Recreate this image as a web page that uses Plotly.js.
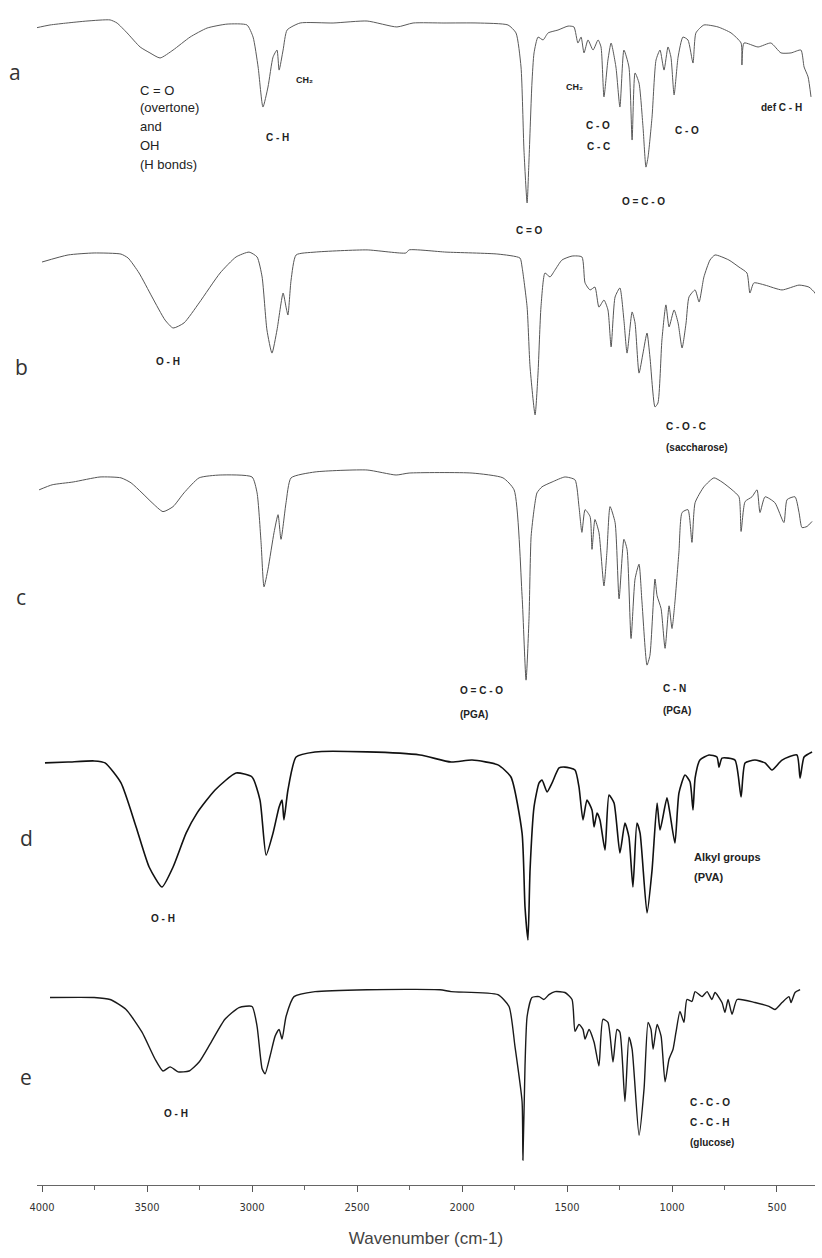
<!DOCTYPE html>
<html><head><meta charset="utf-8">
<script src="https://cdn.plot.ly/plotly-3.0.1.min.js"></script>
<style>html,body{margin:0;padding:0;background:#fff}</style>
</head><body><div id="chart" style="width:822px;height:1258px"></div>
<script>
// ---------- DATA (wavenumber cm-1, relative transmittance 0-100 per spectrum) ----------
const wnA = [4033,3962,3881,3786,3676,3643,3595,3533,3486,3438,3376,3295,3214,3119,3024,2995,2971,2948,2924,2900,2881,2871,2852,2833,2771,2614,2452,2310,2233,2086,1924,1781,1743,1719,1705,1690,1681,1667,1657,1638,1614,1590,1543,1495,1467,1448,1433,1419,1400,1376,1352,1338,1324,1305,1290,1267,1248,1229,1205,1190,1176,1157,1138,1124,1114,1095,1076,1057,1038,1019,1005,990,971,948,924,900,886,848,781,719,671,667,657,590,529,481,433,386,371,352,338];
const tA  = [92.7,94.1,95.0,95.9,96.4,95.0,90.5,84.1,81.4,79.1,82.7,88.6,92.7,94.5,94.1,88.6,75.0,56.8,65.9,79.5,82.7,73.6,82.7,91.8,95.0,95.0,95.9,93.2,95.0,95.0,95.0,94.1,90.5,75.0,37.3,13.2,32.7,67.7,81.4,88.6,87.3,90.5,91.8,93.6,93.2,85.9,88.6,81.4,87.3,82.7,87.3,84.1,61.4,78.2,85.9,75.0,56.8,82.7,75.0,41.8,72.3,67.7,47.7,29.5,34.1,52.3,78.2,82.7,73.6,84.1,79.5,62.3,79.5,88.6,87.3,76.8,90.5,94.1,93.2,90.5,85.9,75.9,85.9,84.1,85.9,81.4,81.4,82.7,75.0,70.5,61.4];

const wnB = [4000,3876,3752,3624,3590,3538,3476,3414,3376,3324,3252,3152,3076,3014,2976,2952,2929,2905,2881,2852,2838,2829,2814,2790,2700,2452,2267,2252,2076,1829,1724,1714,1690,1676,1652,1638,1624,1605,1581,1557,1524,1476,1429,1414,1390,1367,1348,1324,1305,1290,1271,1248,1229,1214,1190,1176,1157,1138,1119,1105,1081,1067,1048,1029,1014,990,971,952,933,919,890,871,848,819,795,729,681,643,629,610,557,476,395,348,319,295];
const tB  = [90.0,93.2,94.1,93.6,91.8,85.0,74.1,63.6,60.0,62.3,71.4,85.0,92.3,94.5,92.3,83.2,59.1,48.6,59.1,75.9,69.5,65.9,81.8,93.2,94.5,95.5,94.1,95.5,94.5,93.6,91.8,87.7,69.5,42.3,20.5,39.5,69.5,85.0,83.2,86.4,90.9,92.7,92.3,80.5,77.3,78.6,69.5,72.7,68.2,51.4,74.1,78.2,63.6,48.6,67.3,62.3,39.5,48.6,57.7,46.8,24.1,25.9,54.5,70.5,60.5,68.2,62.3,50.9,62.3,74.1,77.3,71.8,83.2,90.9,93.2,90.9,87.7,85.0,75.9,80.5,79.5,77.3,79.5,78.6,75.9,70.5];

const wnC = [4014,3952,3852,3724,3624,3576,3524,3476,3424,3376,3324,3252,3152,3000,2976,2957,2943,2924,2895,2876,2862,2838,2814,2700,2452,2314,2252,1952,1805,1752,1714,1695,1681,1671,1657,1643,1619,1571,1510,1462,1443,1429,1414,1390,1381,1367,1348,1324,1310,1295,1271,1252,1229,1214,1195,1176,1157,1143,1119,1105,1081,1071,1052,1033,1014,1000,986,967,952,924,905,890,848,800,762,714,681,671,652,619,595,581,557,510,467,452,414,395,381,357,333];
const tC  = [90.9,93.2,94.5,96.8,96.4,94.1,89.5,85.0,80.9,83.2,89.5,96.4,97.7,96.8,89.5,66.8,46.4,54.5,71.4,79.5,68.2,85.0,96.4,99.1,100,97.7,98.6,98.6,96.4,90.9,42.3,3.6,31.8,69.5,81.8,89.5,92.3,94.5,96.8,95.5,83.2,71.4,81.8,78.6,63.6,77.3,71.4,46.8,62.3,83.2,75.9,40.9,68.2,63.6,22.7,50.0,56.8,39.5,10.5,15.0,50.0,42.3,36.4,18.2,37.7,27.3,39.5,62.3,80.5,81.8,66.8,85.0,92.3,96.4,94.5,90.9,87.7,71.8,85.5,87.7,90.9,80.5,87.7,85.0,75.9,86.4,87.7,80.5,73.6,74.1,76.4];

const wnD = [3986,3876,3752,3700,3624,3552,3490,3429,3376,3314,3262,3176,3076,3000,2962,2933,2900,2871,2857,2848,2829,2790,2700,2452,2200,2052,1952,1829,1767,1714,1700,1686,1676,1657,1633,1619,1595,1571,1538,1510,1462,1443,1424,1405,1381,1371,1357,1343,1319,1300,1276,1248,1224,1205,1186,1167,1152,1119,1095,1071,1057,1024,1010,986,967,938,914,900,890,867,824,786,776,762,700,671,652,605,557,524,476,405,390,371,333];
const tD  = [81.4,81.8,82.3,81.4,72.3,52.3,34.1,25.0,34.1,49.5,58.6,69.1,76.8,75.0,64.5,39.5,49.5,61.4,64.5,55.5,69.1,84.1,86.4,86.4,85.0,81.8,82.7,80.5,75.0,49.5,15.9,0.9,32.7,61.4,72.3,73.6,68.2,72.3,79.1,79.5,78.2,70.5,55.5,64.5,60.0,52.3,58.6,55.5,41.8,66.8,63.2,40.5,54.1,47.7,25.0,54.1,49.5,13.2,32.7,63.2,50.9,65.5,58.6,45.0,67.7,75.9,72.7,60.0,74.5,82.7,85.0,84.1,79.5,83.6,82.7,65.9,81.4,82.7,81.4,78.2,82.7,85.0,74.5,84.1,86.4];

const wnE = [3962,3752,3676,3600,3524,3462,3424,3390,3352,3300,3252,3200,3129,3062,3000,2976,2952,2938,2914,2890,2871,2857,2838,2800,2700,2452,2105,2052,1829,1776,1748,1714,1710,1700,1690,1667,1633,1610,1586,1557,1510,1476,1462,1443,1424,1414,1395,1371,1348,1329,1305,1281,1262,1248,1224,1205,1190,1157,1133,1114,1100,1090,1071,1052,1033,1014,995,981,962,943,929,905,890,857,833,810,795,762,748,733,714,690,605,538,510,476,443,433,414,390];
const tE  = [78.2,78.2,77.3,72.7,62.3,50.0,44.5,46.4,44.1,44.5,48.6,56.8,68.2,73.6,74.1,65.0,45.5,43.2,51.4,60.5,63.6,59.1,69.5,78.6,80.9,81.8,81.8,80.9,79.5,74.1,55.9,30.5,3.6,46.8,69.5,78.2,78.6,77.3,79.5,80.9,80.5,77.3,62.7,65.9,63.6,59.1,63.6,57.7,46.8,68.2,66.8,48.6,63.6,62.3,30.5,60.0,54.5,15.0,36.4,66.8,63.6,54.5,65.9,60.5,39.5,50.0,54.5,62.3,71.8,66.8,77.3,76.4,80.9,78.6,80.9,77.3,80.5,75.9,71.4,77.3,70.5,77.3,75.9,74.1,72.7,75.9,78.6,75.9,80.5,81.8];

const sampleLetters = ['a','b','c','d','e'];
const xTickStep = 500;
const xTitle = 'Wavenumber (cm-1)';

// ---------- LAYOUT GEOMETRY (pixels) ----------
const W = 822, H = 1258;
const M = {l:37, r:7, t:12, b:73};
const plotL = M.l, plotR = W - M.r, plotT = M.t, plotB = H - M.b;
const plotW = plotR - plotL, plotH = plotB - plotT;
const px2x = px => (px - plotL) / plotW;
const px2y = py => (plotB - py) / plotH;
// pixel rows where each spectrum's 100 and 0 sit
const panels = [
  {top:12,  bottom:232, color:'#5a5a5a', width:1.0},
  {top:240, bottom:460, color:'#555555', width:1.0},
  {top:470, bottom:688, color:'#555555', width:1.0},
  {top:722, bottom:942, color:'#111111', width:1.6},
  {top:950, bottom:1168, color:'#1a1a1a', width:1.4}
];
const series = [[wnA,tA],[wnB,tB],[wnC,tC],[wnD,tD],[wnE,tE]];

const traces = [];
const layout = {
  width: W, height: H, margin: M, showlegend: false,
  paper_bgcolor: '#fff', plot_bgcolor: '#fff',
  xaxis: {
    range: [4024, 319], anchor: 'free', position: 0,
    tickmode: 'linear', tick0: 500, dtick: xTickStep,
    ticks: 'outside', ticklen: 6, tickwidth: 1, tickcolor: '#555',
    showline: true, linecolor: '#666', linewidth: 1,
    showgrid: false, zeroline: false,
    minor: {tickmode: 'linear', tick0: 250, dtick: xTickStep, ticks: 'outside', ticklen: 4, tickcolor: '#666', showgrid: false},
    tickfont: {family: 'DejaVu Sans Condensed, Liberation Sans Narrow, Arial', size: 11, color: '#333'},
    ticklabelstandoff: 6,
    title: {text: xTitle, font: {family: 'Liberation Sans, Arial', size: 17, color: '#444'}, standoff: 18},
    automargin: false
  },
  annotations: []
};

panels.forEach((p, i) => {
  const unit = (p.bottom - p.top) / 100;
  const dTop = Math.max(plotT, p.top - 8);
  const dBot = Math.min(plotB, p.bottom + 8);
  const key = i === 0 ? 'yaxis' : 'yaxis' + (i + 1);
  layout[key] = {
    domain: [px2y(dBot), px2y(dTop)],
    range: [(p.bottom - dBot) / unit, (p.bottom - dTop) / unit],
    visible: false, fixedrange: true, anchor: 'x'
  };
  traces.push({
    x: series[i][0], y: series[i][1], type: 'scatter', mode: 'lines',
    xaxis: 'x', yaxis: i === 0 ? 'y' : 'y' + (i + 1),
    line: {color: p.color, width: p.width, shape: 'spline', smoothing: 0.55}, hoverinfo: 'skip'
  });
});

// ---------- TEXT LABELS ----------
const LETTER_POS = [[15,72],[21,367],[21,597],[26,838],[26,1077]];
sampleLetters.forEach((s, i) => {
  layout.annotations.push({xref:'paper', yref:'paper', x:px2x(LETTER_POS[i][0]), y:px2y(LETTER_POS[i][1]),
    text:s, showarrow:false, xanchor:'center', yanchor:'middle',
    font:{family:'Open Sans, Liberation Sans', size:21, color:'#333'}});
});

// [text, xpx, ypx, anchor, size, bold]
const LABELS = [
  ['C = O', 138, 90, 'left', 13, false],
  ['(overtone)', 138, 108, 'left', 13, false],
  ['and', 138, 127, 'left', 13, false],
  ['OH', 138, 145, 'left', 13, false],
  ['(H bonds)', 138, 164, 'left', 13, false],
  ['CH₂', 304, 80, 'center', 9, true],
  ['C - H', 277, 138, 'center', 10, true],
  ['CH₂', 574, 87, 'center', 9, true],
  ['C - O', 598, 125, 'center', 10, true],
  ['C - C', 598, 147, 'center', 10, true],
  ['O = C - O', 643, 202, 'center', 10, true],
  ['C = O', 529, 230, 'center', 10, true],
  ['C - O', 687, 130, 'center', 10, true],
  ['def C - H', 781, 108, 'center', 10, true],
  ['O - H', 168, 362, 'center', 10, true],
  ['C - O - C', 664, 427, 'left', 10, true],
  ['(saccharose)', 664, 447, 'left', 10, true],
  ['O = C - O', 458, 690, 'left', 10, true],
  ['(PGA)', 458, 714, 'left', 10, true],
  ['C - N', 661, 688, 'left', 10, true],
  ['(PGA)', 661, 710, 'left', 10, true],
  ['O - H', 163, 918, 'center', 10, true],
  ['Alkyl groups', 692, 857, 'left', 11, true],
  ['(PVA)', 692, 877, 'left', 11, true],
  ['O - H', 176, 1113, 'center', 10, true],
  ['C - C - O', 688, 1102, 'left', 10, true],
  ['C - C - H', 688, 1122, 'left', 10, true],
  ['(glucose)', 688, 1142, 'left', 10, true]
];
LABELS.forEach(([t, x, y, a, s, b]) => {
  layout.annotations.push({xref:'paper', yref:'paper', x:px2x(x), y:px2y(y),
    text: b ? '<b>' + t + '</b>' : t, showarrow:false, xanchor:a, yanchor:'middle', align:'left',
    font:{family:'Liberation Sans, Arial', size:s, color:'#222'}});
});

Plotly.newPlot('chart', traces, layout, {staticPlot: true, displayModeBar: false});
</script></body></html>
